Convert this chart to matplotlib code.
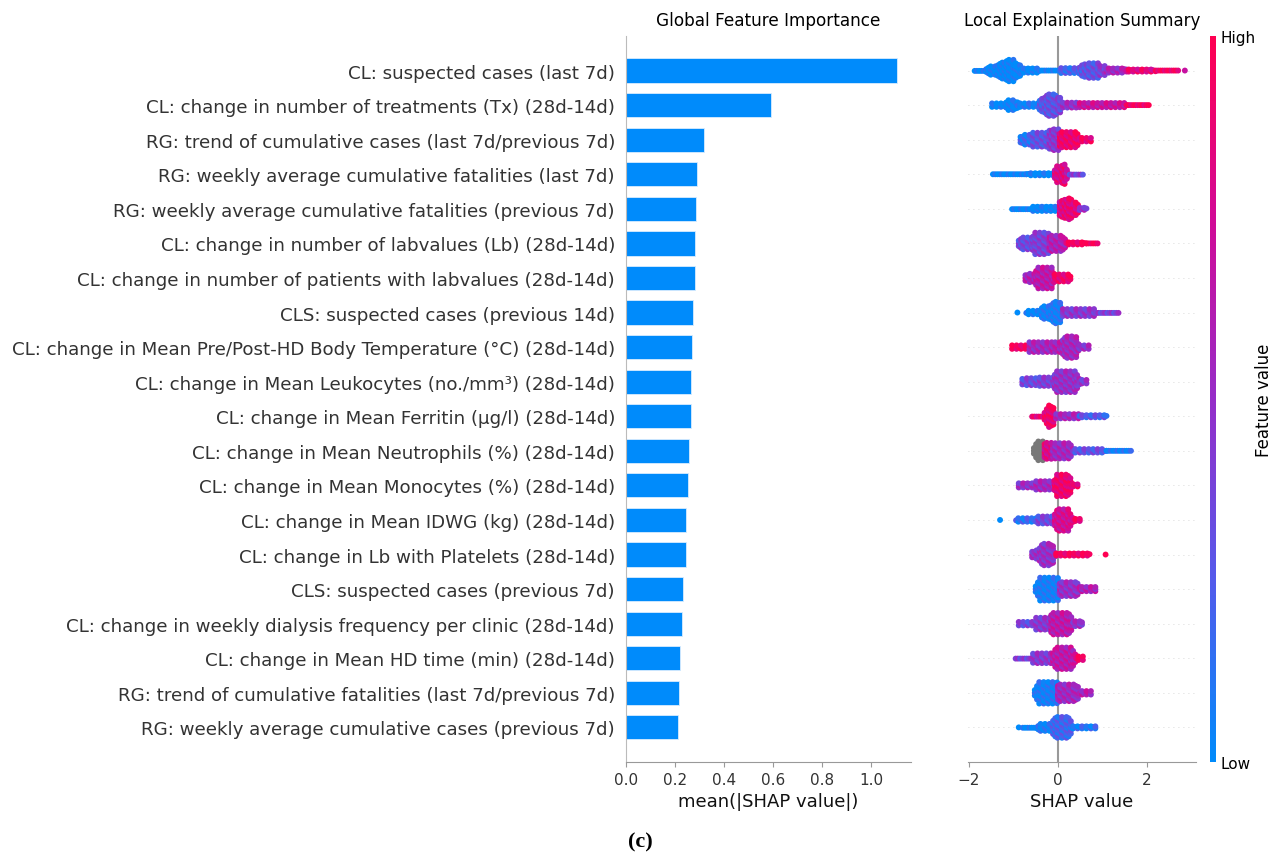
import matplotlib
matplotlib.use('Agg')
import matplotlib.pyplot as plt
import numpy as np
from matplotlib.colors import LinearSegmentedColormap
from matplotlib.cm import ScalarMappable

# features, top to bottom
features = [
    'CL: suspected cases (last 7d)',
    'CL: change in number of treatments (Tx) (28d-14d)',
    'RG: trend of cumulative cases (last 7d/previous 7d)',
    'RG: weekly average cumulative fatalities (last 7d)',
    'RG: weekly average cumulative fatalities (previous 7d)',
    'CL: change in number of labvalues (Lb) (28d-14d)',
    'CL: change in number of patients with labvalues (28d-14d)',
    'CLS: suspected cases (previous 14d)',
    'CL: change in Mean Pre/Post-HD Body Temperature (°C) (28d-14d)',
    'CL: change in Mean Leukocytes (no./mm³) (28d-14d)',
    'CL: change in Mean Ferritin (µg/l) (28d-14d)',
    'CL: change in Mean Neutrophils (%) (28d-14d)',
    'CL: change in Mean Monocytes (%) (28d-14d)',
    'CL: change in Mean IDWG (kg) (28d-14d)',
    'CL: change in Lb with Platelets (28d-14d)',
    'CLS: suspected cases (previous 7d)',
    'CL: change in weekly dialysis frequency per clinic (28d-14d)',
    'CL: change in Mean HD time (min) (28d-14d)',
    'RG: trend of cumulative fatalities (last 7d/previous 7d)',
    'RG: weekly average cumulative cases (previous 7d)',
]

# mean(|SHAP value|)
importance = [1.106, 0.592, 0.318, 0.290, 0.286, 0.283, 0.283, 0.275, 0.270, 0.265,
              0.264, 0.256, 0.252, 0.245, 0.243, 0.232, 0.228, 0.219, 0.215, 0.214]

# beeswarm, per feature: (shap from, shap to, half thickness, feature value)
# feature value -1 = missing (gray)
swarm = [
    [(-1.87, -1.61, 0.08, 0.0), (-1.61, -1.35, 0.19, 0.0), (-1.35, -1.2, 0.30, 0.0),
     (-1.2, -0.95, 0.38, 0.0), (-0.95, -0.82, 0.28, 0.0), (-0.82, -0.41, 0.13, 0.0),
     (-0.41, 0.07, 0.05, 0.0), (0.07, 0.49, 0.14, 0.2), (0.49, 0.6, 0.22, 0.25),
     (0.6, 0.95, 0.28, 0.3), (0.95, 1.09, 0.2, 0.4), (1.09, 1.54, 0.13, 0.55),
     (1.54, 2.2, 0.1, 0.85), (2.2, 2.73, 0.06, 0.95), (2.85, 2.85, 0.03, 0.7)],
    [(-1.48, -1.16, 0.12, 0.0), (-1.16, -0.9, 0.21, 0.0), (-0.9, -0.41, 0.12, 0.05),
     (-0.41, -0.3, 0.25, 0.25), (-0.3, 0.0, 0.38, 0.3), (0.0, 0.11, 0.28, 0.35),
     (0.11, 0.49, 0.14, 0.5), (0.49, 1.54, 0.13, 0.7), (1.54, 2.04, 0.07, 0.95)],
    [(-0.84, -0.56, 0.21, 0.15), (-0.56, -0.19, 0.27, 0.3), (-0.19, 0.04, 0.37, 0.45),
     (0.04, 0.49, 0.29, 0.9), (0.49, 0.75, 0.12, 0.9)],
    [(-1.46, -0.71, 0.06, 0.0), (-0.71, -0.07, 0.1, 0.0), (-0.07, 0.1, 0.3, 0.8),
     (0.1, 0.2, 0.38, 0.85), (0.2, 0.26, 0.2, 0.7), (0.26, 0.56, 0.08, 0.4)],
    [(-1.03, -0.56, 0.08, 0.0), (-0.56, -0.04, 0.13, 0.0), (0.04, 0.15, 0.3, 0.8),
     (0.15, 0.35, 0.37, 0.85), (0.35, 0.49, 0.25, 0.85), (0.49, 0.64, 0.1, 0.5)],
    [(-0.88, -0.56, 0.24, 0.35), (-0.56, -0.19, 0.38, 0.4), (-0.19, 0.19, 0.29, 0.6),
     (0.19, 0.64, 0.1, 0.95), (0.64, 0.92, 0.04, 1.0)],
    [(-0.73, -0.49, 0.19, 0.6), (-0.49, -0.07, 0.37, 0.65), (-0.07, 0.28, 0.17, 0.9)],
    [(-0.91, -0.91, 0.03, 0.0), (-0.71, -0.41, 0.12, 0.0), (-0.41, -0.15, 0.25, 0.05),
     (-0.15, 0.11, 0.38, 0.05), (0.11, 0.86, 0.17, 0.45), (0.86, 1.39, 0.08, 0.4)],
    [(-1.03, -0.64, 0.12, 0.95), (-0.64, -0.11, 0.21, 0.55), (-0.11, 0.11, 0.21, 0.6),
     (0.11, 0.49, 0.38, 0.55), (0.49, 0.69, 0.12, 0.5)],
    [(-0.8, -0.41, 0.17, 0.35), (-0.41, -0.07, 0.19, 0.4), (-0.07, 0.49, 0.37, 0.5),
     (0.49, 0.67, 0.12, 0.45)],
    [(-0.58, -0.3, 0.08, 0.85), (-0.3, -0.04, 0.38, 0.9), (-0.04, 0.49, 0.13, 0.55),
     (0.49, 1.12, 0.1, 0.25)],
    [(-0.54, -0.3, 0.34, -1), (-0.3, -0.11, 0.3, 0.8), (-0.11, 0.34, 0.29, 0.55),
     (0.34, 1.09, 0.12, 0.3), (1.09, 1.65, 0.05, 0.05)],
    [(-0.88, -0.49, 0.13, 0.5), (-0.49, -0.07, 0.19, 0.55), (-0.07, 0.34, 0.38, 0.9),
     (0.34, 0.46, 0.1, 0.9)],
    [(-1.3, -1.3, 0.03, 0.0), (-0.94, -0.49, 0.12, 0.15), (-0.49, -0.07, 0.17, 0.35),
     (-0.07, 0.34, 0.38, 0.75), (0.34, 0.52, 0.1, 0.9)],
    [(-0.58, -0.41, 0.19, 0.5), (-0.41, -0.04, 0.38, 0.5), (-0.04, 0.71, 0.1, 0.95),
     (1.07, 1.07, 0.03, 0.95)],
    [(-0.5, 0.04, 0.4, 0.05), (0.04, 0.49, 0.27, 0.5), (0.49, 0.85, 0.13, 0.6)],
    [(-0.88, -0.49, 0.12, 0.35), (-0.49, -0.15, 0.24, 0.45), (-0.15, 0.34, 0.38, 0.65),
     (0.34, 0.55, 0.14, 0.5)],
    [(-0.95, -0.56, 0.08, 0.4), (-0.56, -0.11, 0.21, 0.45), (-0.11, 0.41, 0.38, 0.65),
     (0.41, 0.6, 0.12, 0.95)],
    [(-0.52, 0.0, 0.38, 0.05), (0.0, 0.49, 0.31, 0.55), (0.49, 0.75, 0.12, 0.6)],
    [(-0.88, -0.88, 0.03, 0.0), (-0.79, -0.49, 0.08, 0.0), (-0.49, -0.11, 0.17, 0.05),
     (-0.11, 0.34, 0.37, 0.2), (0.34, 0.85, 0.1, 0.1)],
]

cmap = LinearSegmentedColormap.from_list(
    'red_blue', [(0.0, '#008bfb'), (0.25, '#545aeb'), (0.5, '#962dc8'),
                 (0.75, '#d20a96'), (1.0, '#ff0052')])

n = len(features)
ypos = np.arange(n)[::-1]

fig = plt.figure(figsize=(12.73, 8.54), dpi=100)

# bar panel
ax1 = fig.add_axes([0.4918, 0.1066, 0.2238, 0.8501])
ax1.barh(ypos, importance, height=0.7, color='#008bfb', edgecolor='#d8ecff', linewidth=0.6)
ax1.set_yticks(ypos)
ax1.set_yticklabels(features, fontsize=13.15, color='#333333')
ax1.tick_params(axis='y', length=0, pad=8)
ax1.tick_params(axis='x', labelsize=11, labelcolor='#333333', color='#999999')
ax1.set_ylim(-1, n)
ax1.set_xlim(0, 1.163)
ax1.set_xticks([0.0, 0.2, 0.4, 0.6, 0.8, 1.0])
ax1.set_xticklabels(['0.0', '0.2', '0.4', '0.6', '0.8', '1.0'])
ax1.spines['top'].set_visible(False)
ax1.spines['right'].set_visible(False)
ax1.spines['left'].set_color('#bbbbbb')
ax1.spines['bottom'].set_color('#999999')
ax1.set_xlabel('mean(|SHAP value|)', fontsize=13, color='#111111')
ax1.set_title('Global Feature Importance', fontsize=12.2, pad=8)

# beeswarm panel
ax2 = fig.add_axes([0.7604, 0.1066, 0.1791, 0.8501])
dx, dy, r = 0.05, 0.08, 0.07
slope = 3.0   # how fast a blob may widen, rows per SHAP unit
shift = [0.0, 0.12, -0.12]
for i, segs in enumerate(swarm):
    y = n - 1 - i
    ax2.axhline(y, color='#cccccc', lw=0.6, dashes=(1, 5), zorder=-2)
    cx, ch, cc = [], [], []
    for (x0, x1, h, c) in segs:
        xx = np.arange(x0, x1 + 1e-6, dx) if x1 > x0 else np.array([x0])
        cx += list(xx)
        ch += [h] * len(xx)
        cc += [c] * len(xx)
    cx, ch = np.array(cx), np.array(ch)
    lo, hi = cx.min() - dx, cx.max() + dx
    xs, ys, cols = [], [], []
    for j in range(len(cx)):
        h = min(ch[j], np.min(ch + slope * np.abs(cx - cx[j])),
                slope * (cx[j] - lo), slope * (hi - cx[j]))
        h = max(h, 0.03)
        half = max(h - r, 0)
        m = max(1, int(round(2 * half / dy)) + 1)
        offs = np.linspace(-half, half, m)
        if j % 2 and m > 1:
            offs = offs[:-1] + dy / 2
        for k, o in enumerate(offs):
            xs.append(cx[j])
            ys.append(y + o)
            if cc[j] < 0:
                cols.append((0.47, 0.47, 0.47, 1.0))
            else:
                cols.append(cmap(float(np.clip(cc[j] + shift[(j + k) % 3], 0, 1))))
    ax2.scatter(xs, ys, c=cols, s=18, linewidths=0, zorder=3)

ax2.axvline(0, color='#999999', lw=1.5, zorder=-1)
ax2.set_ylim(-1, n)
ax2.set_xlim(-2.02, 3.1)
ax2.set_yticks([])
ax2.set_xticks([-2, 0, 2])
ax2.set_xticklabels(['\u22122', '0', '2'])
ax2.tick_params(axis='x', labelsize=11, labelcolor='#333333', color='#999999')
for s in ['top', 'right', 'left']:
    ax2.spines[s].set_visible(False)
ax2.spines['bottom'].set_color('#999999')
ax2.set_xlabel('SHAP value', fontsize=13, color='#111111')
ax2.set_title('Local Explaination Summary', fontsize=12, pad=8)

# colorbar
cax = fig.add_axes([0.9505, 0.1066, 0.0047, 0.8501])
sm = ScalarMappable(cmap=cmap)
sm.set_clim(0, 1)
cb = fig.colorbar(sm, cax=cax, ticks=[0, 1])
cb.set_ticklabels(['Low', 'High'])
cb.outline.set_visible(False)
cax.tick_params(length=0, labelsize=11)
cb.set_label('Feature value', size=12, labelpad=-1)

fig.text(0.5028, 0.002, '(c)', fontsize=16, fontweight='bold', family='Liberation Serif',
         ha='center', va='bottom')

plt.savefig('out.png', dpi=100)
plt.close(fig)
